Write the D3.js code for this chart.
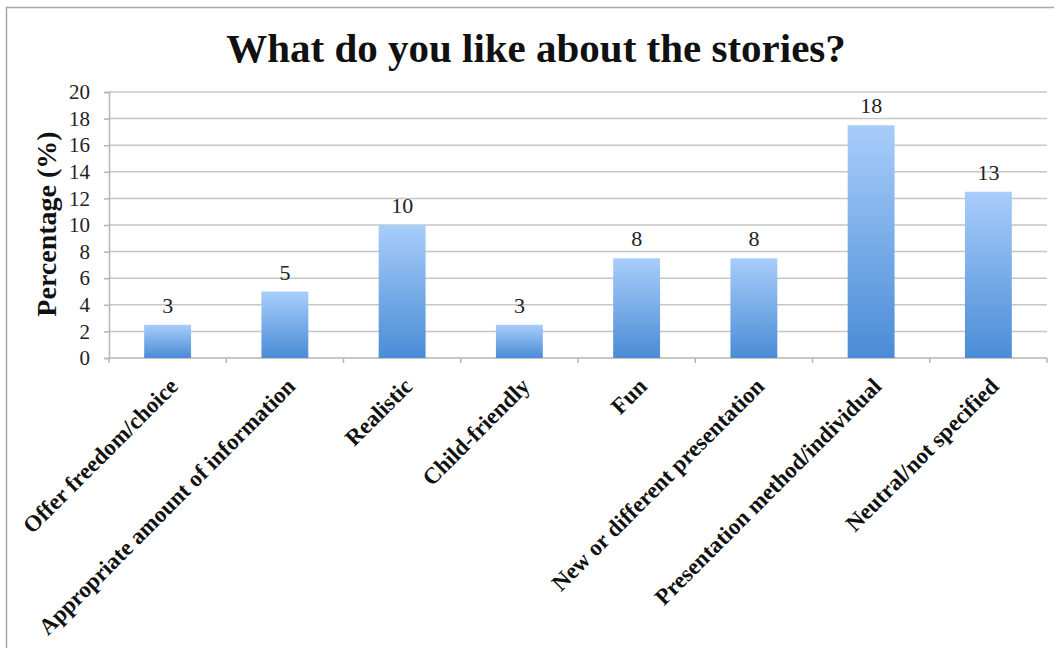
<!DOCTYPE html>
<html>
<head>
<meta charset="utf-8">
<script src="https://cdn.jsdelivr.net/npm/d3@7"></script>
<style>
  html, body { margin: 0; padding: 0; background: #fff; }
  svg { display: block; }
</style>
</head>
<body>
<svg id="chart" width="1057" height="648"></svg>
<script>
// Survey responses: share of answers per category (percent)
const categories = [
  "Offer freedom/choice",
  "Appropriate amount of information",
  "Realistic",
  "Child-friendly",
  "Fun",
  "New or different presentation",
  "Presentation method/individual",
  "Neutral/not specified"
];
const values = [2.5, 5, 10, 2.5, 7.5, 7.5, 17.5, 12.5];
const yTicks = [0, 2, 4, 6, 8, 10, 12, 14, 16, 18, 20];

const titleText = "What do you like about the stories?";
const yTitle = "Percentage (%)";

const svg = d3.select("#chart");
const serif = "'Liberation Serif', 'Times New Roman', serif";

// Outer chart frame (top and left edges)
svg.append("path")
  .attr("d", "M6.5,648 V7.5 H1054")
  .attr("fill", "none")
  .attr("stroke", "#a6a6a6")
  .attr("stroke-width", 1.5);

const plot = { left: 109, right: 1047, top: 92, bottom: 358 };

const x = d3.scaleBand()
  .domain(categories)
  .range([plot.left, plot.right])
  .paddingInner(0.6)
  .paddingOuter(0.3);

const y = d3.scaleLinear()
  .domain([0, 20])
  .range([plot.bottom, plot.top]);

// Vertical gradient for the bars
const defs = svg.append("defs");
const grad = defs.append("linearGradient")
  .attr("id", "barFill")
  .attr("x1", 0).attr("y1", 0).attr("x2", 0).attr("y2", 1);
grad.append("stop").attr("offset", "0%").attr("stop-color", "#a8cdfa");
grad.append("stop").attr("offset", "100%").attr("stop-color", "#4a8cd6");

// Horizontal gridlines
svg.append("g")
  .selectAll("line")
  .data(yTicks.filter(t => t > 0))
  .join("line")
  .attr("x1", plot.left)
  .attr("x2", plot.right)
  .attr("y1", d => y(d))
  .attr("y2", d => y(d))
  .attr("stroke", "#c6c6c6")
  .attr("stroke-width", 1.5);

// Y axis
const yAxis = svg.append("g")
  .attr("transform", `translate(${plot.left},0)`)
  .call(d3.axisLeft(y).tickValues(yTicks).tickSize(5).tickPadding(14));
yAxis.select(".domain").attr("stroke", "#b5b5b5").attr("stroke-width", 1.5);
yAxis.selectAll(".tick line").attr("stroke", "#b5b5b5").attr("stroke-width", 1.5);
yAxis.selectAll(".tick text")
  .attr("font-family", serif)
  .attr("font-size", 21)
  .attr("fill", "#222");

// X axis with ticks at category boundaries
const boundaries = d3.range(categories.length + 1).map(i => plot.left + i * (plot.right - plot.left) / categories.length);
svg.append("line")
  .attr("x1", plot.left).attr("x2", plot.right)
  .attr("y1", plot.bottom).attr("y2", plot.bottom)
  .attr("stroke", "#b5b5b5").attr("stroke-width", 1.5);
svg.append("g")
  .selectAll("line")
  .data(boundaries)
  .join("line")
  .attr("x1", d => d).attr("x2", d => d)
  .attr("y1", plot.bottom).attr("y2", plot.bottom + 5)
  .attr("stroke", "#b5b5b5").attr("stroke-width", 1.5);

// Bars
svg.append("g")
  .selectAll("rect")
  .data(values)
  .join("rect")
  .attr("x", (d, i) => x(categories[i]))
  .attr("width", x.bandwidth())
  .attr("y", d => y(d))
  .attr("height", d => y(0) - y(d))
  .attr("fill", "url(#barFill)");

// Value labels (rounded to whole percent)
svg.append("g")
  .selectAll("text")
  .data(values)
  .join("text")
  .attr("x", (d, i) => x(categories[i]) + x.bandwidth() / 2)
  .attr("y", d => y(d) - 12)
  .attr("text-anchor", "middle")
  .attr("font-family", serif)
  .attr("font-size", 22)
  .attr("fill", "#222")
  .text(d => Math.round(d));

// Rotated category labels
svg.append("g")
  .selectAll("text")
  .data(categories)
  .join("text")
  .attr("transform", d => `translate(${x(d) + x.bandwidth() / 2 + 6},${plot.bottom + 24}) rotate(-45)`)
  .attr("text-anchor", "end")
  .attr("dy", "0.35em")
  .attr("font-family", serif)
  .attr("font-weight", "bold")
  .attr("font-size", 23)
  .attr("fill", "#111")
  .text(d => d);

// Y axis title
svg.append("text")
  .attr("transform", `translate(56,224) rotate(-90)`)
  .attr("text-anchor", "middle")
  .attr("font-family", serif)
  .attr("font-weight", "bold")
  .attr("font-size", 28)
  .attr("fill", "#111")
  .text(yTitle);

// Chart title
svg.append("text")
  .attr("x", 536)
  .attr("y", 62)
  .attr("text-anchor", "middle")
  .attr("font-family", serif)
  .attr("font-weight", "bold")
  .attr("font-size", 41)
  .attr("fill", "#111")
  .text(titleText);
</script>
</body>
</html>
